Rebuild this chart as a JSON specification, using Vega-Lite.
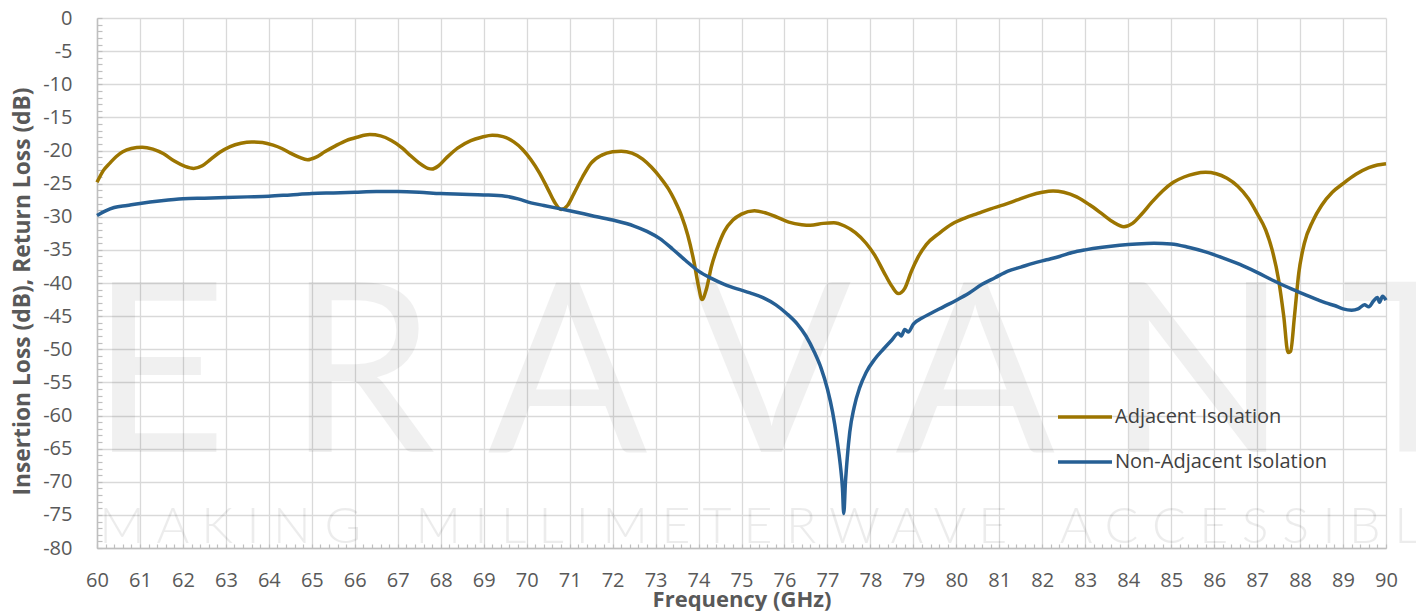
{
  "$schema": "https://vega.github.io/schema/vega-lite/v6.json",
  "width": 1289,
  "height": 530,
  "autosize": {"type": "none"},
  "padding": {"left": 97, "top": 18, "right": 30, "bottom": 63},
  "background": "white",
  "config": {
    "view": {"stroke": null},
    "font": "Open Sans",
    "axis": {"labelFont": "Open Sans", "titleFont": "Open Sans"}
  },
  "datasets": {
    "curves": [
      {"f": 60.0, "v": -24.8, "series": "Adjacent Isolation"},
      {"f": 60.15, "v": -23.0, "series": "Adjacent Isolation"},
      {"f": 60.3, "v": -21.9, "series": "Adjacent Isolation"},
      {"f": 60.45, "v": -20.9, "series": "Adjacent Isolation"},
      {"f": 60.6, "v": -20.2, "series": "Adjacent Isolation"},
      {"f": 60.8, "v": -19.7, "series": "Adjacent Isolation"},
      {"f": 61.05, "v": -19.5, "series": "Adjacent Isolation"},
      {"f": 61.3, "v": -19.8, "series": "Adjacent Isolation"},
      {"f": 61.55, "v": -20.5, "series": "Adjacent Isolation"},
      {"f": 61.8, "v": -21.6, "series": "Adjacent Isolation"},
      {"f": 62.05, "v": -22.4, "series": "Adjacent Isolation"},
      {"f": 62.25, "v": -22.7, "series": "Adjacent Isolation"},
      {"f": 62.45, "v": -22.3, "series": "Adjacent Isolation"},
      {"f": 62.65, "v": -21.3, "series": "Adjacent Isolation"},
      {"f": 62.85, "v": -20.3, "series": "Adjacent Isolation"},
      {"f": 63.1, "v": -19.4, "series": "Adjacent Isolation"},
      {"f": 63.35, "v": -18.9, "series": "Adjacent Isolation"},
      {"f": 63.6, "v": -18.7, "series": "Adjacent Isolation"},
      {"f": 63.85, "v": -18.8, "series": "Adjacent Isolation"},
      {"f": 64.1, "v": -19.2, "series": "Adjacent Isolation"},
      {"f": 64.3, "v": -19.7, "series": "Adjacent Isolation"},
      {"f": 64.5, "v": -20.4, "series": "Adjacent Isolation"},
      {"f": 64.7, "v": -21.0, "series": "Adjacent Isolation"},
      {"f": 64.9, "v": -21.4, "series": "Adjacent Isolation"},
      {"f": 65.1, "v": -21.0, "series": "Adjacent Isolation"},
      {"f": 65.3, "v": -20.2, "series": "Adjacent Isolation"},
      {"f": 65.55, "v": -19.3, "series": "Adjacent Isolation"},
      {"f": 65.8, "v": -18.5, "series": "Adjacent Isolation"},
      {"f": 66.05, "v": -18.0, "series": "Adjacent Isolation"},
      {"f": 66.35, "v": -17.6, "series": "Adjacent Isolation"},
      {"f": 66.6, "v": -17.8, "series": "Adjacent Isolation"},
      {"f": 66.85, "v": -18.5, "series": "Adjacent Isolation"},
      {"f": 67.1, "v": -19.6, "series": "Adjacent Isolation"},
      {"f": 67.3, "v": -20.8, "series": "Adjacent Isolation"},
      {"f": 67.5, "v": -21.9, "series": "Adjacent Isolation"},
      {"f": 67.7, "v": -22.7, "series": "Adjacent Isolation"},
      {"f": 67.8, "v": -22.8, "series": "Adjacent Isolation"},
      {"f": 67.95, "v": -22.3, "series": "Adjacent Isolation"},
      {"f": 68.15, "v": -21.0, "series": "Adjacent Isolation"},
      {"f": 68.4, "v": -19.6, "series": "Adjacent Isolation"},
      {"f": 68.7, "v": -18.5, "series": "Adjacent Isolation"},
      {"f": 68.95, "v": -18.0, "series": "Adjacent Isolation"},
      {"f": 69.2, "v": -17.7, "series": "Adjacent Isolation"},
      {"f": 69.45, "v": -17.9, "series": "Adjacent Isolation"},
      {"f": 69.7, "v": -18.7, "series": "Adjacent Isolation"},
      {"f": 69.9, "v": -19.8, "series": "Adjacent Isolation"},
      {"f": 70.1, "v": -21.4, "series": "Adjacent Isolation"},
      {"f": 70.3, "v": -23.4, "series": "Adjacent Isolation"},
      {"f": 70.5, "v": -25.9, "series": "Adjacent Isolation"},
      {"f": 70.65, "v": -27.8, "series": "Adjacent Isolation"},
      {"f": 70.8, "v": -28.9, "series": "Adjacent Isolation"},
      {"f": 70.95, "v": -28.3, "series": "Adjacent Isolation"},
      {"f": 71.1, "v": -26.5, "series": "Adjacent Isolation"},
      {"f": 71.3, "v": -24.0, "series": "Adjacent Isolation"},
      {"f": 71.5, "v": -21.9, "series": "Adjacent Isolation"},
      {"f": 71.75, "v": -20.7, "series": "Adjacent Isolation"},
      {"f": 72.0, "v": -20.2, "series": "Adjacent Isolation"},
      {"f": 72.2, "v": -20.1, "series": "Adjacent Isolation"},
      {"f": 72.45, "v": -20.4, "series": "Adjacent Isolation"},
      {"f": 72.7, "v": -21.3, "series": "Adjacent Isolation"},
      {"f": 72.9, "v": -22.5, "series": "Adjacent Isolation"},
      {"f": 73.1, "v": -24.0, "series": "Adjacent Isolation"},
      {"f": 73.3, "v": -25.8, "series": "Adjacent Isolation"},
      {"f": 73.45, "v": -27.6, "series": "Adjacent Isolation"},
      {"f": 73.6, "v": -29.8, "series": "Adjacent Isolation"},
      {"f": 73.75, "v": -32.8, "series": "Adjacent Isolation"},
      {"f": 73.9, "v": -37.0, "series": "Adjacent Isolation"},
      {"f": 74.0, "v": -40.5, "series": "Adjacent Isolation"},
      {"f": 74.08, "v": -42.5, "series": "Adjacent Isolation"},
      {"f": 74.18, "v": -41.0, "series": "Adjacent Isolation"},
      {"f": 74.3, "v": -37.5, "series": "Adjacent Isolation"},
      {"f": 74.45, "v": -34.5, "series": "Adjacent Isolation"},
      {"f": 74.6, "v": -32.2, "series": "Adjacent Isolation"},
      {"f": 74.8, "v": -30.5, "series": "Adjacent Isolation"},
      {"f": 75.0, "v": -29.6, "series": "Adjacent Isolation"},
      {"f": 75.3, "v": -29.1, "series": "Adjacent Isolation"},
      {"f": 75.55, "v": -29.4, "series": "Adjacent Isolation"},
      {"f": 75.8, "v": -30.0, "series": "Adjacent Isolation"},
      {"f": 76.1, "v": -30.8, "series": "Adjacent Isolation"},
      {"f": 76.4, "v": -31.2, "series": "Adjacent Isolation"},
      {"f": 76.6, "v": -31.3, "series": "Adjacent Isolation"},
      {"f": 76.9, "v": -31.0, "series": "Adjacent Isolation"},
      {"f": 77.15, "v": -30.9, "series": "Adjacent Isolation"},
      {"f": 77.4, "v": -31.4, "series": "Adjacent Isolation"},
      {"f": 77.65, "v": -32.4, "series": "Adjacent Isolation"},
      {"f": 77.9, "v": -34.0, "series": "Adjacent Isolation"},
      {"f": 78.1, "v": -35.8, "series": "Adjacent Isolation"},
      {"f": 78.3, "v": -38.2, "series": "Adjacent Isolation"},
      {"f": 78.5, "v": -40.5, "series": "Adjacent Isolation"},
      {"f": 78.65, "v": -41.6, "series": "Adjacent Isolation"},
      {"f": 78.8, "v": -40.8, "series": "Adjacent Isolation"},
      {"f": 78.95, "v": -38.3, "series": "Adjacent Isolation"},
      {"f": 79.1, "v": -36.2, "series": "Adjacent Isolation"},
      {"f": 79.3, "v": -34.2, "series": "Adjacent Isolation"},
      {"f": 79.6, "v": -32.5, "series": "Adjacent Isolation"},
      {"f": 79.9, "v": -31.1, "series": "Adjacent Isolation"},
      {"f": 80.2, "v": -30.2, "series": "Adjacent Isolation"},
      {"f": 80.5, "v": -29.5, "series": "Adjacent Isolation"},
      {"f": 80.8, "v": -28.8, "series": "Adjacent Isolation"},
      {"f": 81.1, "v": -28.2, "series": "Adjacent Isolation"},
      {"f": 81.4, "v": -27.5, "series": "Adjacent Isolation"},
      {"f": 81.7, "v": -26.8, "series": "Adjacent Isolation"},
      {"f": 82.0, "v": -26.3, "series": "Adjacent Isolation"},
      {"f": 82.25, "v": -26.1, "series": "Adjacent Isolation"},
      {"f": 82.5, "v": -26.3, "series": "Adjacent Isolation"},
      {"f": 82.8, "v": -27.0, "series": "Adjacent Isolation"},
      {"f": 83.1, "v": -28.2, "series": "Adjacent Isolation"},
      {"f": 83.4, "v": -29.6, "series": "Adjacent Isolation"},
      {"f": 83.65, "v": -30.8, "series": "Adjacent Isolation"},
      {"f": 83.9, "v": -31.5, "series": "Adjacent Isolation"},
      {"f": 84.1, "v": -31.0, "series": "Adjacent Isolation"},
      {"f": 84.3, "v": -29.7, "series": "Adjacent Isolation"},
      {"f": 84.55, "v": -27.8, "series": "Adjacent Isolation"},
      {"f": 84.8, "v": -26.1, "series": "Adjacent Isolation"},
      {"f": 85.05, "v": -24.8, "series": "Adjacent Isolation"},
      {"f": 85.3, "v": -24.0, "series": "Adjacent Isolation"},
      {"f": 85.55, "v": -23.5, "series": "Adjacent Isolation"},
      {"f": 85.8, "v": -23.3, "series": "Adjacent Isolation"},
      {"f": 86.05, "v": -23.5, "series": "Adjacent Isolation"},
      {"f": 86.3, "v": -24.2, "series": "Adjacent Isolation"},
      {"f": 86.55, "v": -25.4, "series": "Adjacent Isolation"},
      {"f": 86.8, "v": -27.3, "series": "Adjacent Isolation"},
      {"f": 87.0, "v": -29.5, "series": "Adjacent Isolation"},
      {"f": 87.2, "v": -32.0, "series": "Adjacent Isolation"},
      {"f": 87.35, "v": -35.0, "series": "Adjacent Isolation"},
      {"f": 87.5, "v": -39.5, "series": "Adjacent Isolation"},
      {"f": 87.62, "v": -45.0, "series": "Adjacent Isolation"},
      {"f": 87.72, "v": -50.5, "series": "Adjacent Isolation"},
      {"f": 87.78, "v": -50.3, "series": "Adjacent Isolation"},
      {"f": 87.87, "v": -45.0, "series": "Adjacent Isolation"},
      {"f": 87.97, "v": -38.5, "series": "Adjacent Isolation"},
      {"f": 88.1, "v": -34.0, "series": "Adjacent Isolation"},
      {"f": 88.3, "v": -30.6, "series": "Adjacent Isolation"},
      {"f": 88.5, "v": -28.3, "series": "Adjacent Isolation"},
      {"f": 88.75, "v": -26.3, "series": "Adjacent Isolation"},
      {"f": 89.0, "v": -25.0, "series": "Adjacent Isolation"},
      {"f": 89.3, "v": -23.6, "series": "Adjacent Isolation"},
      {"f": 89.6, "v": -22.6, "series": "Adjacent Isolation"},
      {"f": 89.8, "v": -22.2, "series": "Adjacent Isolation"},
      {"f": 90.0, "v": -22.0, "series": "Adjacent Isolation"},
      {"f": 60.0, "v": -29.8, "series": "Non-Adjacent Isolation"},
      {"f": 60.2, "v": -29.1, "series": "Non-Adjacent Isolation"},
      {"f": 60.4, "v": -28.6, "series": "Non-Adjacent Isolation"},
      {"f": 60.7, "v": -28.3, "series": "Non-Adjacent Isolation"},
      {"f": 61.0, "v": -28.0, "series": "Non-Adjacent Isolation"},
      {"f": 61.5, "v": -27.6, "series": "Non-Adjacent Isolation"},
      {"f": 62.0, "v": -27.3, "series": "Non-Adjacent Isolation"},
      {"f": 62.5, "v": -27.2, "series": "Non-Adjacent Isolation"},
      {"f": 63.0, "v": -27.1, "series": "Non-Adjacent Isolation"},
      {"f": 63.5, "v": -27.0, "series": "Non-Adjacent Isolation"},
      {"f": 64.0, "v": -26.9, "series": "Non-Adjacent Isolation"},
      {"f": 64.5, "v": -26.7, "series": "Non-Adjacent Isolation"},
      {"f": 65.0, "v": -26.5, "series": "Non-Adjacent Isolation"},
      {"f": 65.5, "v": -26.4, "series": "Non-Adjacent Isolation"},
      {"f": 66.0, "v": -26.3, "series": "Non-Adjacent Isolation"},
      {"f": 66.5, "v": -26.2, "series": "Non-Adjacent Isolation"},
      {"f": 67.0, "v": -26.2, "series": "Non-Adjacent Isolation"},
      {"f": 67.5, "v": -26.3, "series": "Non-Adjacent Isolation"},
      {"f": 68.0, "v": -26.5, "series": "Non-Adjacent Isolation"},
      {"f": 68.5, "v": -26.6, "series": "Non-Adjacent Isolation"},
      {"f": 69.0, "v": -26.7, "series": "Non-Adjacent Isolation"},
      {"f": 69.5, "v": -26.9, "series": "Non-Adjacent Isolation"},
      {"f": 69.8, "v": -27.3, "series": "Non-Adjacent Isolation"},
      {"f": 70.1, "v": -27.9, "series": "Non-Adjacent Isolation"},
      {"f": 70.4, "v": -28.3, "series": "Non-Adjacent Isolation"},
      {"f": 70.7, "v": -28.7, "series": "Non-Adjacent Isolation"},
      {"f": 71.0, "v": -29.1, "series": "Non-Adjacent Isolation"},
      {"f": 71.5, "v": -29.8, "series": "Non-Adjacent Isolation"},
      {"f": 72.0, "v": -30.5, "series": "Non-Adjacent Isolation"},
      {"f": 72.5, "v": -31.4, "series": "Non-Adjacent Isolation"},
      {"f": 72.8, "v": -32.2, "series": "Non-Adjacent Isolation"},
      {"f": 73.1, "v": -33.3, "series": "Non-Adjacent Isolation"},
      {"f": 73.4, "v": -34.9, "series": "Non-Adjacent Isolation"},
      {"f": 73.7, "v": -36.6, "series": "Non-Adjacent Isolation"},
      {"f": 74.0, "v": -38.2, "series": "Non-Adjacent Isolation"},
      {"f": 74.3, "v": -39.3, "series": "Non-Adjacent Isolation"},
      {"f": 74.6, "v": -40.2, "series": "Non-Adjacent Isolation"},
      {"f": 74.9, "v": -40.9, "series": "Non-Adjacent Isolation"},
      {"f": 75.2, "v": -41.5, "series": "Non-Adjacent Isolation"},
      {"f": 75.5, "v": -42.2, "series": "Non-Adjacent Isolation"},
      {"f": 75.8, "v": -43.3, "series": "Non-Adjacent Isolation"},
      {"f": 76.05, "v": -44.6, "series": "Non-Adjacent Isolation"},
      {"f": 76.3, "v": -46.2, "series": "Non-Adjacent Isolation"},
      {"f": 76.5, "v": -48.0, "series": "Non-Adjacent Isolation"},
      {"f": 76.7, "v": -50.5, "series": "Non-Adjacent Isolation"},
      {"f": 76.85, "v": -52.8, "series": "Non-Adjacent Isolation"},
      {"f": 77.0, "v": -56.0, "series": "Non-Adjacent Isolation"},
      {"f": 77.12, "v": -59.5, "series": "Non-Adjacent Isolation"},
      {"f": 77.22, "v": -63.5, "series": "Non-Adjacent Isolation"},
      {"f": 77.3, "v": -67.5, "series": "Non-Adjacent Isolation"},
      {"f": 77.35, "v": -71.0, "series": "Non-Adjacent Isolation"},
      {"f": 77.38, "v": -74.8, "series": "Non-Adjacent Isolation"},
      {"f": 77.42, "v": -70.0, "series": "Non-Adjacent Isolation"},
      {"f": 77.46, "v": -66.5, "series": "Non-Adjacent Isolation"},
      {"f": 77.52, "v": -62.5, "series": "Non-Adjacent Isolation"},
      {"f": 77.62, "v": -58.8, "series": "Non-Adjacent Isolation"},
      {"f": 77.75, "v": -55.8, "series": "Non-Adjacent Isolation"},
      {"f": 77.9, "v": -53.5, "series": "Non-Adjacent Isolation"},
      {"f": 78.1, "v": -51.5, "series": "Non-Adjacent Isolation"},
      {"f": 78.3, "v": -50.0, "series": "Non-Adjacent Isolation"},
      {"f": 78.5, "v": -48.6, "series": "Non-Adjacent Isolation"},
      {"f": 78.65, "v": -47.6, "series": "Non-Adjacent Isolation"},
      {"f": 78.72, "v": -48.0, "series": "Non-Adjacent Isolation"},
      {"f": 78.8, "v": -47.0, "series": "Non-Adjacent Isolation"},
      {"f": 78.88, "v": -47.4, "series": "Non-Adjacent Isolation"},
      {"f": 79.0, "v": -46.2, "series": "Non-Adjacent Isolation"},
      {"f": 79.2, "v": -45.3, "series": "Non-Adjacent Isolation"},
      {"f": 79.4, "v": -44.6, "series": "Non-Adjacent Isolation"},
      {"f": 79.7, "v": -43.6, "series": "Non-Adjacent Isolation"},
      {"f": 80.0, "v": -42.6, "series": "Non-Adjacent Isolation"},
      {"f": 80.3, "v": -41.5, "series": "Non-Adjacent Isolation"},
      {"f": 80.6, "v": -40.2, "series": "Non-Adjacent Isolation"},
      {"f": 80.9, "v": -39.2, "series": "Non-Adjacent Isolation"},
      {"f": 81.2, "v": -38.2, "series": "Non-Adjacent Isolation"},
      {"f": 81.5, "v": -37.6, "series": "Non-Adjacent Isolation"},
      {"f": 81.8, "v": -37.0, "series": "Non-Adjacent Isolation"},
      {"f": 82.1, "v": -36.5, "series": "Non-Adjacent Isolation"},
      {"f": 82.4, "v": -36.0, "series": "Non-Adjacent Isolation"},
      {"f": 82.7, "v": -35.4, "series": "Non-Adjacent Isolation"},
      {"f": 83.0, "v": -35.0, "series": "Non-Adjacent Isolation"},
      {"f": 83.4, "v": -34.6, "series": "Non-Adjacent Isolation"},
      {"f": 83.8, "v": -34.3, "series": "Non-Adjacent Isolation"},
      {"f": 84.2, "v": -34.1, "series": "Non-Adjacent Isolation"},
      {"f": 84.6, "v": -34.0, "series": "Non-Adjacent Isolation"},
      {"f": 85.0, "v": -34.1, "series": "Non-Adjacent Isolation"},
      {"f": 85.4, "v": -34.6, "series": "Non-Adjacent Isolation"},
      {"f": 85.8, "v": -35.3, "series": "Non-Adjacent Isolation"},
      {"f": 86.2, "v": -36.2, "series": "Non-Adjacent Isolation"},
      {"f": 86.6, "v": -37.2, "series": "Non-Adjacent Isolation"},
      {"f": 87.0, "v": -38.4, "series": "Non-Adjacent Isolation"},
      {"f": 87.4, "v": -39.7, "series": "Non-Adjacent Isolation"},
      {"f": 87.8, "v": -40.9, "series": "Non-Adjacent Isolation"},
      {"f": 88.1, "v": -41.7, "series": "Non-Adjacent Isolation"},
      {"f": 88.4, "v": -42.5, "series": "Non-Adjacent Isolation"},
      {"f": 88.6, "v": -43.0, "series": "Non-Adjacent Isolation"},
      {"f": 88.8, "v": -43.4, "series": "Non-Adjacent Isolation"},
      {"f": 89.0, "v": -43.9, "series": "Non-Adjacent Isolation"},
      {"f": 89.2, "v": -44.1, "series": "Non-Adjacent Isolation"},
      {"f": 89.35, "v": -43.9, "series": "Non-Adjacent Isolation"},
      {"f": 89.5, "v": -43.3, "series": "Non-Adjacent Isolation"},
      {"f": 89.6, "v": -43.6, "series": "Non-Adjacent Isolation"},
      {"f": 89.7, "v": -42.8, "series": "Non-Adjacent Isolation"},
      {"f": 89.8, "v": -42.2, "series": "Non-Adjacent Isolation"},
      {"f": 89.85, "v": -42.9, "series": "Non-Adjacent Isolation"},
      {"f": 89.92, "v": -42.0, "series": "Non-Adjacent Isolation"},
      {"f": 90.0, "v": -42.6, "series": "Non-Adjacent Isolation"}
    ]
  },
  "layer": [
    {
      "data": {"values": [{"t": "E R A V A N T"}]},
      "mark": {"type": "text", "font": "Lato", "fontSize": 236, "align": "left", "baseline": "alphabetic", "fill": "#000000", "opacity": 0.055},
      "encoding": {
        "x": {"datum": 59.85, "type": "quantitative", "title": "Frequency (GHz)"},
        "y": {"datum": -65.5, "type": "quantitative", "title": "Insertion Loss (dB), Return Loss (dB)"},
        "text": {"field": "t", "type": "nominal"}
      }
    },
    {
      "data": {"values": [{"t": "M A K I N G \u00a0\u00a0 M I L L I M E T E R W A V E \u00a0\u00a0 A C C E S S I B L E"}]},
      "mark": {"type": "text", "font": "Lato", "fontWeight": 300, "fontSize": 50, "align": "left", "baseline": "alphabetic", "fill": "#000000", "opacity": 0.07},
      "encoding": {
        "x": {"datum": 60.05, "type": "quantitative", "title": "Frequency (GHz)"},
        "y": {"datum": -79.2, "type": "quantitative", "title": "Insertion Loss (dB), Return Loss (dB)"},
        "text": {"field": "t", "type": "nominal"}
      }
    },
    {
      "data": {"name": "curves"},
      "mark": {"type": "line", "strokeWidth": 3.5, "interpolate": "monotone"},
      "encoding": {
        "x": {"field": "f", "type": "quantitative",
          "scale": {"domain": [60, 90], "nice": false, "zero": false},
          "axis": {"orient": "bottom", "tickCount": 150,
            "grid": true, "gridColor": "#D9D9D9", "gridWidth": 1.3,
            "gridOpacity": {"condition": {"test": "abs(datum.value - round(datum.value)) < 0.001", "value": 1}, "value": 0},
            "ticks": true, "tickSize": -4, "tickColor": "#BFBFBF", "tickWidth": 1.2,
            "domain": true, "domainColor": "#BFBFBF", "domainWidth": 1.5,
            "labelExpr": "abs(datum.value - round(datum.value)) < 0.001 ? '' + round(datum.value) : ''",
            "labelFontSize": 20, "labelColor": "#595959", "labelBaseline": "alphabetic", "labelPadding": 42, "labelFlush": false, "labelOverlap": false,
            "title": "Frequency (GHz)", "titleFontSize": 22, "titleFontWeight": "bold", "titleColor": "#595959", "titleBaseline": "alphabetic", "titleY": 58}},
        "y": {"field": "v", "type": "quantitative",
          "scale": {"domain": [-80, 0], "nice": false, "zero": false},
          "axis": {"orient": "left", "tickCount": 80,
            "grid": true, "gridColor": "#D9D9D9", "gridWidth": 1.3,
            "gridOpacity": {"condition": {"test": "abs(datum.value % 5) < 0.001", "value": 1}, "value": 0},
            "ticks": true, "tickSize": -5, "tickColor": "#BFBFBF", "tickWidth": 1.2,
            "domain": true, "domainColor": "#BFBFBF", "domainWidth": 1.5,
            "labelExpr": "abs(datum.value % 5) < 0.001 ? (datum.value < 0 ? '-' + abs(round(datum.value)) : '' + round(datum.value)) : ''",
            "labelFontSize": 20, "labelColor": "#595959", "labelAlign": "right", "labelBaseline": "middle", "labelPadding": 30, "labelFlush": false, "labelOverlap": false,
            "title": "Insertion Loss (dB), Return Loss (dB)", "titleFontSize": 22.8, "titleFontWeight": "bold", "titleColor": "#595959", "titleX": -75, "titleY": 273, "titleAngle": 270, "titleAlign": "center", "titleBaseline": "middle"}},
        "color": {"field": "series", "type": "nominal",
          "scale": {"domain": ["Adjacent Isolation", "Non-Adjacent Isolation"], "range": ["#9C7500", "#265F94"]},
          "legend": {"orient": "none", "legendX": 959, "legendY": 370, "title": null, "direction": "vertical", "padding": 0,
            "symbolType": "stroke", "symbolSize": 2916, "symbolStrokeWidth": 3.5, "labelFont": "Open Sans", "labelFontSize": 20, "labelColor": "#404040", "labelOffset": 1, "labelLimit": 400, "rowPadding": 6}}
      }
    }
  ]
}
